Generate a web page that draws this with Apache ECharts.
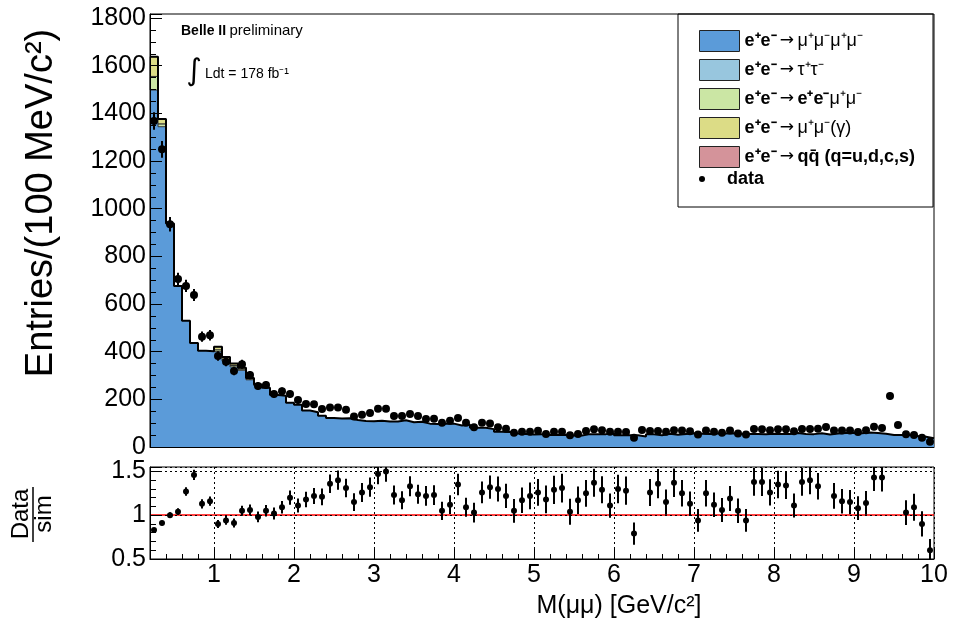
<!DOCTYPE html>
<html>
<head>
<meta charset="utf-8">
<script src="https://cdn.jsdelivr.net/npm/echarts/dist/echarts.min.js"></script>
<style>
html, body { margin: 0; padding: 0; background: #fff; }
#chart { width: 958px; height: 621px; }
</style>
</head>
<body>
<div id="chart"></div>
<script>
// binning: 98 bins of 100 MeV from 0.2 to 10 GeV
var binLo = 0.2;
var binW = 0.1;
var nBins = 98;

// data counts per bin (0.25, 0.35, ... 9.95)
var dataCounts = [
	1368, 1249, 935, 705, 676, 638, 463, 469, 382, 358,
	319, 347, 302, 256, 260, 222, 234, 222, 197, 180,
	179, 159, 166, 166, 156, 128, 135, 143, 160, 160,
	130, 130, 138, 130, 117, 119, 102, 110, 122, 102,
	83, 102, 99, 83, 77, 60, 64, 64, 68, 55,
	64, 64, 49, 55, 67, 74, 70, 64, 64, 63,
	39, 71, 67, 67, 64, 70, 69, 66, 52, 69,
	64, 60, 69, 57, 52, 76, 74, 70, 74, 74,
	66, 76, 76, 77, 84, 69, 69, 69, 63, 70,
	85, 80, 214, 92, 53, 50, 39, 22
];

// simulation, e+e- -> mu mu mu mu
var mc4mu = [
	1498, 1344, 938, 676, 530, 436, 404, 402, 400, 360,
	336, 322, 282, 256, 249, 218, 215, 186, 177, 153,
	146, 131, 122, 120, 121, 113, 109, 108, 110, 107,
	107, 112, 104, 106, 98, 97, 98, 98, 90, 94,
	81, 81, 75, 64, 63, 57, 55, 52, 54, 50,
	50, 50, 48, 48, 54, 54, 54, 58, 49, 49,
	49, 44, 53, 49, 56, 51, 55, 58, 56, 55,
	57, 57, 58, 55, 55, 55, 54, 56, 55, 55,
	59, 55, 54, 58, 52, 57, 59, 60, 58, 61,
	59, 56, 50, 50, 51, 46, 43, 37
];
// tau tau and q qbar: not visible in the picture
var mcTauTau = [];
// e+e- -> e e mu mu, only the first bins
var mcEEMuMu = [57, 12, 0, 0, 0, 0, 0, 0, 8, 8, 6, 5, 4, 3];
// e+e- -> mu mu (gamma), only the first bins
var mcMuMuG = [83, 20, 0, 0, 0, 0, 0, 0, 13, 10, 8, 6, 4, 3];
var mcQQ = [];

// Data/sim ratio (null = off the top of the panel)
var ratio = [
	0.83, 0.91, 1.00, 1.04, 1.27, 1.46, 1.13, 1.16, 0.90, 0.94,
	0.91, 1.05, 1.06, 0.98, 1.05, 1.02, 1.09, 1.20, 1.11, 1.18,
	1.22, 1.21, 1.36, 1.40, 1.31, 1.15, 1.26, 1.32, 1.47, 1.50,
	1.23, 1.17, 1.33, 1.24, 1.22, 1.23, 1.05, 1.12, 1.35, 1.09,
	1.03, 1.26, 1.32, 1.30, 1.22, 1.05, 1.17, 1.22, 1.26, 1.18,
	1.29, 1.31, 1.04, 1.17, 1.25, 1.37, 1.29, 1.11, 1.30, 1.28,
	0.79, null, 1.26, 1.36, 1.15, 1.37, 1.25, 1.13, 0.94, 1.25,
	1.12, 1.06, 1.19, 1.05, 0.94, 1.38, 1.38, 1.26, 1.35, 1.34,
	1.11, 1.38, 1.40, 1.33, null, 1.22, 1.16, 1.15, 1.08, 1.14,
	1.43, 1.43, null, null, 1.03, 1.09, 0.90, 0.60
];

var names = [
	'e+e- → μ+μ-μ+μ-',
	'e+e- → τ+τ-',
	'e+e- → e+e-μ+μ-',
	'e+e- → μ+μ-(γ)',
	'e+e- → qq̄ (q=u,d,c,s)'
];
var colors = ['#5b9bd9', '#98c6de', '#cbe6a4', '#dcdc86', '#d4939a'];
var legendText = {};
legendText[names[0]] = '{b|e⁺e⁻} {a|→} {r|μ⁺μ⁻μ⁺μ⁻}';
legendText[names[1]] = '{b|e⁺e⁻} {a|→} {r|τ⁺τ⁻}';
legendText[names[2]] = '{b|e⁺e⁻} {a|→} {b|e⁺e⁻}{r|μ⁺μ⁻}';
legendText[names[3]] = '{b|e⁺e⁻} {a|→} {r|μ⁺μ⁻(γ)}';
legendText[names[4]] = '{b|e⁺e⁻} {a|→} {b|qq̄ (q=u,d,c,s)}';
legendText['data'] = '{b|data}';

var font = 'Liberation Sans';
var comps = [mc4mu, mcTauTau, mcEEMuMu, mcMuMuG, mcQQ];

var centers = [];
for (var i = 0; i < nBins; i++) {
	centers.push(+(binLo + (i + 0.5) * binW).toFixed(2));
}

// stacked bases
var bases = [];
var total = [];
for (var i = 0; i < nBins; i++) total.push(0);
for (var k = 0; k < comps.length; k++) {
	bases.push(total.slice());
	for (var i = 0; i < nBins; i++) total[i] += comps[k][i] || 0;
}

function stepPoints(vals) {
	var pts = [];
	for (var i = 0; i < nBins; i++) pts.push([centers[i] - binW / 2, vals[i]]);
	pts.push([centers[nBins - 1] + binW / 2, vals[nBins - 1]]);
	return pts;
}

function boxRender(color) {
	return function(params, api) {
		var x = api.value(0), base = api.value(1), v = api.value(2);
		if (!(v > 0)) return;
		var p0 = api.coord([x - binW / 2, base + v]);
		var p1 = api.coord([x + binW / 2, base]);
		return {
			type: 'rect',
			shape: {x: p0[0], y: p0[1], width: p1[0] - p0[0], height: p1[1] - p0[1]},
			style: {fill: color, stroke: '#333', lineWidth: 1}
		};
	};
}

function errRender(params, api) {
	var x = api.value(0), y = api.value(1), e = api.value(2);
	var a = api.coord([x, y - e]);
	var b = api.coord([x, y + e]);
	return {
		type: 'line',
		shape: {x1: a[0], y1: a[1], x2: b[0], y2: b[1]},
		style: {stroke: '#000', lineWidth: 2}
	};
}

var dataPts = [], dataErr = [], ratioPts = [], ratioErr = [];
for (var i = 0; i < nBins; i++) {
	dataPts.push([centers[i], dataCounts[i]]);
	dataErr.push([centers[i], dataCounts[i], Math.sqrt(dataCounts[i])]);
	if (ratio[i] != null) {
		ratioPts.push([centers[i], ratio[i]]);
		ratioErr.push([centers[i], ratio[i], ratio[i] / Math.sqrt(dataCounts[i])]);
	}
}

var series = [];
// e+e- -> 4mu as filled step area
series.push({
	name: names[0],
	type: 'line',
	color: colors[0],
	step: 'end',
	symbol: 'none',
	lineStyle: {width: 0},
	areaStyle: {color: colors[0], opacity: 1},
	data: stepPoints(mc4mu),
	z: 2
});
for (var k = 1; k < comps.length; k++) {
	var d = [];
	for (var i = 0; i < nBins; i++) {
		d.push([centers[i], bases[k][i], comps[k][i] || 0]);
	}
	series.push({
		name: names[k],
		type: 'custom',
		color: colors[k],
		renderItem: boxRender(colors[k]),
		encode: {x: 0, y: 1},
		data: d,
		z: 3
	});
}
// outline of the total simulation
series.push({
	name: 'sim total',
	type: 'line',
	step: 'end',
	symbol: 'none',
	lineStyle: {color: '#000', width: 2},
	data: stepPoints(total),
	z: 4
});
series.push({
	name: 'data err',
	type: 'custom',
	renderItem: errRender,
	encode: {x: 0, y: 1},
	data: dataErr,
	z: 5
});
series.push({
	name: 'data',
	type: 'scatter',
	color: '#000',
	symbolSize: 8,
	itemStyle: {color: '#000', opacity: 1},
	data: dataPts,
	z: 6
});
series.push({
	name: 'ratio err',
	type: 'custom',
	xAxisIndex: 1,
	yAxisIndex: 1,
	clip: true,
	renderItem: errRender,
	encode: {x: 0, y: 1},
	data: ratioErr,
	z: 5
});
series.push({
	name: 'ratio',
	type: 'scatter',
	xAxisIndex: 1,
	yAxisIndex: 1,
	color: '#000',
	symbolSize: 6,
	itemStyle: {color: '#000', opacity: 1},
	data: ratioPts,
	z: 6,
	markLine: {
		silent: true,
		symbol: 'none',
		label: {show: false},
		lineStyle: {color: '#ff0000', width: 1.5, type: 'solid'},
		data: [{yAxis: 1}]
	}
});

var labelStyle = {color: '#000', fontFamily: font, fontSize: 25};

var option = {
	animation: false,
	backgroundColor: '#fff',
	grid: [
		{left: 150, right: 24, top: 14, height: 433, show: true, borderColor: '#000', borderWidth: 1},
		{left: 150, right: 24, top: 467, height: 92, show: true, borderColor: '#000', borderWidth: 1}
	],
	xAxis: [
		{
			type: 'value', gridIndex: 0, min: 0.2, max: 10, splitNumber: 10, z: 10,
			axisLine: {show: true, lineStyle: {color: '#000', width: 1}},
			axisTick: {show: false},
			axisLabel: {show: false},
			splitLine: {show: false}
		},
		{
			type: 'value', gridIndex: 1, min: 0.2, max: 10, splitNumber: 10, z: 10,
			axisLine: {show: true, lineStyle: {color: '#000', width: 1}},
			axisTick: {show: true, inside: true, length: 10, lineStyle: {color: '#000'}},
			minorTick: {show: true, splitNumber: 5, length: 5, lineStyle: {color: '#000'}},
			axisLabel: Object.assign({
				margin: 4,
				formatter: function(v) {
					return Math.abs(v - Math.round(v)) < 1e-6 ? String(Math.round(v)) : '';
				}
			}, labelStyle),
			splitLine: {show: true, lineStyle: {color: '#000', type: [2, 3], width: 1}}
		}
	],
	yAxis: [
		{
			type: 'value', gridIndex: 0, min: 0, max: 1817, interval: 200, z: 10,
			axisLine: {show: true, lineStyle: {color: '#000', width: 1}},
			axisTick: {show: true, inside: true, length: 12, lineStyle: {color: '#000'}},
			minorTick: {show: true, splitNumber: 4, length: 6, lineStyle: {color: '#000'}},
			axisLabel: Object.assign({
				margin: 4,
				formatter: function(v) { return v % 200 === 0 ? String(v) : ''; }
			}, labelStyle),
			splitLine: {show: false}
		},
		{
			type: 'value', gridIndex: 1, min: 0.5, max: 1.55, interval: 0.5, z: 10,
			axisLine: {show: true, lineStyle: {color: '#000', width: 1}},
			axisTick: {show: true, inside: true, length: 12, lineStyle: {color: '#000'}},
			minorTick: {show: true, splitNumber: 5, length: 6, lineStyle: {color: '#000'}},
			axisLabel: Object.assign({
				margin: 4,
				formatter: function(v) {
					return Math.abs(v * 2 - Math.round(v * 2)) < 1e-6 ? String(+v.toFixed(1)) : '';
				}
			}, labelStyle),
			splitLine: {show: true, lineStyle: {color: '#000', type: [2, 3], width: 1}}
		}
	],
	legend: [
		{
			data: names,
			orient: 'vertical',
			left: 694,
			top: 25,
			itemWidth: 40,
			itemHeight: 21,
			itemGap: 7,
			icon: 'rect',
			selectedMode: false,
			itemStyle: {borderColor: '#222', borderWidth: 1},
			formatter: function(name) { return legendText[name]; },
			textStyle: {
				color: '#000',
				rich: {
					b: {fontFamily: font, fontSize: 18, fontWeight: 'bold', color: '#000'},
					r: {fontFamily: font, fontSize: 18, color: '#000'},
					a: {fontFamily: 'DejaVu Sans', fontSize: 17, color: '#000'}
				}
			}
		},
		{
			data: [{name: 'data', icon: 'circle'}],
			orient: 'vertical',
			left: 694,
			top: 165,
			itemWidth: 40,
			itemHeight: 6,
			selectedMode: false,
			formatter: function(name) { return legendText[name]; },
			textStyle: {
				color: '#000',
				rich: {
					b: {fontFamily: font, fontSize: 18, fontWeight: 'bold', color: '#000'}
				}
			}
		}
	],
	graphic: [
		{
			type: 'rect', z: 20,
			shape: {x: 678, y: 14, width: 255, height: 193},
			style: {fill: 'none', stroke: '#000', lineWidth: 1}
		},
		{
			type: 'text', x: 42, y: 203, rotation: Math.PI / 2,
			style: {text: 'Entries/(100 MeV/c²)', font: '38px "Liberation Sans"', fill: '#000',
				textAlign: 'center', textVerticalAlign: 'middle'}
		},
		{
			type: 'text', x: 619, y: 606,
			style: {text: 'M(μμ) [GeV/c²]', font: '25px "Liberation Sans"', fill: '#000',
				textAlign: 'center', textVerticalAlign: 'middle'}
		},
		{
			type: 'text', x: 21, y: 514, rotation: Math.PI / 2,
			style: {text: 'Data', font: '24px "Liberation Sans"', fill: '#000',
				textAlign: 'center', textVerticalAlign: 'middle'}
		},
		{
			type: 'text', x: 44, y: 514, rotation: Math.PI / 2,
			style: {text: 'sim', font: '24px "Liberation Sans"', fill: '#000',
				textAlign: 'center', textVerticalAlign: 'middle'}
		},
		{
			type: 'line',
			shape: {x1: 33, y1: 487, x2: 33, y2: 542},
			style: {stroke: '#000', lineWidth: 1.5}
		},
		{
			type: 'text', x: 181, y: 31,
			style: {
				text: '{b|Belle II} {n|preliminary}',
				textVerticalAlign: 'middle',
				rich: {
					b: {fontFamily: font, fontSize: 14, fontWeight: 'bold', fill: '#000'},
					n: {fontFamily: font, fontSize: 15, fill: '#000'}
				}
			}
		},
		{
			type: 'text', x: 194, y: 72,
			style: {text: '∫', font: '30px "DejaVu Sans"', fill: '#000',
				textAlign: 'center', textVerticalAlign: 'middle'}
		},
		{
			type: 'text', x: 205, y: 74,
			style: {text: 'Ldt = 178 fb⁻¹', font: '14px "Liberation Sans"', fill: '#000',
				textVerticalAlign: 'middle'}
		}
	],
	series: series
};

var chart = echarts.init(document.getElementById('chart'));
chart.setOption(option);
</script>
</body>
</html>
